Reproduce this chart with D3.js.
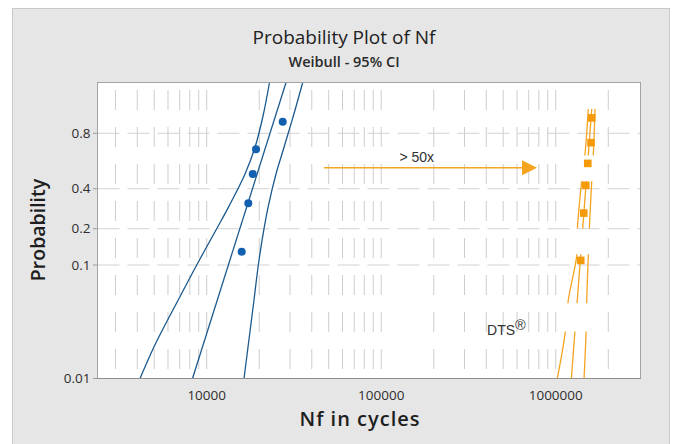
<!DOCTYPE html>
<html><head><meta charset="utf-8">
<script src="https://cdn.jsdelivr.net/npm/d3@7"></script>
<style>body{margin:0;background:#fff;} svg{display:block;}</style>
</head><body><svg id="c" width="676" height="444"></svg>
<script>
// ---------- data ----------
const blueX = [15870, 17310, 18350, 19170, 27260];
const blueP = [0.1296, 0.3148, 0.5, 0.6852, 0.8704];
const orangeX = [1391000, 1447000, 1486000, 1526000, 1593000, 1608000];
const orangeP = [0.1094, 0.2656, 0.4219, 0.5781, 0.7344, 0.8906];

const blueFitP = [0.01, 0.99];
const blueFitX = [8290, 28480];
const blueCIP = [0.01, 0.02, 0.05, 0.1, 0.2, 0.3, 0.5, 0.7, 0.9, 0.99];
const blueLowerX = [4148, 5055, 6877, 8765, 11410, 13420, 16580, 18920, 21020, 22900];
const blueUpperX = [16360, 17310, 18670, 19760, 21300, 22540, 24950, 27730, 31360, 35490];

const orangeFitP = [0.01, 0.93];
const orangeFitX = [1229000, 1608000];
const orangeCIP = [0.01, 0.025, 0.05, 0.12, 0.2, 0.45, 0.65, 0.93];
const orangeLowerX = [1021000, 1131000, 1181000, 1319000, 1330000, 1409000, 1472000, 1537000];
const orangeUpperX = [1453000, 1491000, 1505000, 1537000, 1558000, 1608000, 1642000, 1680000];
// probability ranges where the orange lines are not drawn
const orangeGapsP = [[0.446, 0.642], [0.122, 0.203], [0.026, 0.047]];

const yTicks = [0.01, 0.1, 0.2, 0.4, 0.8];
const yTickLabels = ["0.01", "0.1", "0.2", "0.4", "0.8"];
const xTicks = [10000, 100000, 1000000];
const xTickLabels = ["10000", "100000", "1000000"];
const xDomain = [2367, 3060000];
const pDomain = [0.01, 0.99];

const arrowFrom = [47000, 0.546];
const arrowTo = [781000, 0.546];
const arrowLabel = "> 50x";
const arrowLabelPos = [159700, 0.588];
const dtsLabel = "DTS";
const dtsPos = [404000, 0.0242];

const titleText = "Probability Plot of Nf";
const subtitleText = "Weibull - 95% CI";
const xTitle = "Nf in cycles";
const yTitle = "Probability";

// ---------- layout ----------
const L = 97.5, R = 640.5, T = 82.5, B = 378.5;
const svg = d3.select("#c");
const FONT = "'Open Sans', 'Noto Sans', sans-serif";
const BLUE_LINE = "#1c5a8e", BLUE_PT = "#135fb0";
const ORANGE = "#f5a420", ORANGE_PT = "#f59a08";

const x = d3.scaleLog().domain(xDomain).range([L, R]);
const weib = p => Math.log(-Math.log(1 - p));
const yLin = d3.scaleLinear().domain(pDomain.map(weib)).range([B, T]);
const y = p => yLin(weib(p));

// outer frame
svg.append("rect").attr("x", 12.5).attr("y", 8.5).attr("width", 657).attr("height", 460)
  .attr("fill", "#e6e6e6").attr("stroke", "#c9c9c9");

// plot area
svg.append("rect").attr("x", L).attr("y", T).attr("width", R - L).attr("height", B - T)
  .attr("fill", "#fff");

const defs = svg.append("defs");
defs.append("clipPath").attr("id", "plotclip").append("rect")
  .attr("x", L).attr("y", T).attr("width", R - L).attr("height", B - T);

// grid
const grid = svg.append("g").attr("clip-path", "url(#plotclip)");
const gridX = x.ticks().filter(v => x(v) > L + 2 && x(v) < R - 2);
grid.selectAll("line.vg").data(gridX).join("line")
  .attr("x1", d => x(d)).attr("x2", d => x(d)).attr("y1", T).attr("y2", B)
  .attr("stroke", "#cdcdcd").attr("stroke-width", 1)
  .attr("stroke-dasharray", "20,17").attr("stroke-dashoffset", 29.5);
grid.selectAll("line.hg").data(yTicks.slice(1)).join("line")
  .attr("x1", L).attr("x2", R).attr("y1", d => y(d)).attr("y2", d => y(d))
  .attr("stroke", "#d2d2d2").attr("stroke-width", 1)
  .attr("stroke-dasharray", "22,8");

// lines
const line = d3.line().x(d => x(d[0])).y(d => y(d[1])).curve(d3.curveCatmullRom.alpha(0.5));
const zip = (xs, ps) => xs.map((v, i) => [v, ps[i]]);

const blueG = svg.append("g").attr("clip-path", "url(#plotclip)");
[zip(blueLowerX, blueCIP), zip(blueFitX, blueFitP), zip(blueUpperX, blueCIP)].forEach(pts => {
  blueG.append("path").attr("d", line(pts)).attr("fill", "none")
    .attr("stroke", BLUE_LINE).attr("stroke-width", 1.3);
});

// orange clip with gaps
const oc = defs.append("clipPath").attr("id", "oclip");
const edges = [orangeFitP[1]].concat(...orangeGapsP.map(g => [g[1], g[0]])).concat([0.01]);
for (let i = 0; i < edges.length; i += 2) {
  const y0 = y(edges[i]), y1 = y(edges[i + 1]);
  oc.append("rect").attr("x", L).attr("width", R - L).attr("y", y0 - 0.5).attr("height", y1 - y0 + 1);
}
const orG = svg.append("g").attr("clip-path", "url(#oclip)");
[zip(orangeLowerX, orangeCIP), zip(orangeFitX, orangeFitP), zip(orangeUpperX, orangeCIP)].forEach(pts => {
  orG.append("path").attr("d", line(pts)).attr("fill", "none")
    .attr("stroke", ORANGE).attr("stroke-width", 1.3);
});

// points
svg.append("g").selectAll("circle").data(zip(blueX, blueP)).join("circle")
  .attr("cx", d => x(d[0])).attr("cy", d => y(d[1])).attr("r", 4).attr("fill", BLUE_PT);
svg.append("g").selectAll("rect").data(zip(orangeX, orangeP)).join("rect")
  .attr("x", d => x(d[0]) - 3.8).attr("y", d => y(d[1]) - 3.8)
  .attr("width", 7.6).attr("height", 7.6).attr("fill", ORANGE_PT);

// frame & axes
svg.append("rect").attr("x", L).attr("y", T).attr("width", R - L).attr("height", B - T)
  .attr("fill", "none").attr("stroke", "#a3a3a3");
svg.append("line").attr("x1", L - 4.5).attr("x2", R).attr("y1", B).attr("y2", B).attr("stroke", "#8f8f8f");

const yAx = svg.append("g");
yAx.selectAll("line").data(yTicks).join("line")
  .attr("x1", L - 4.5).attr("x2", L).attr("y1", d => y(d)).attr("y2", d => y(d)).attr("stroke", "#9a9a9a");
yAx.selectAll("text").data(yTicks).join("text")
  .attr("x", L - 7).attr("y", d => y(d)).attr("dy", "0.35em").attr("text-anchor", "end")
  .attr("font-family", FONT).attr("font-size", 13.5).attr("fill", "#2e2e2e")
  .text((d, i) => yTickLabels[i]);

const xAx = svg.append("g");
xAx.selectAll("text").data(xTicks).join("text")
  .attr("x", d => x(d)).attr("y", B + 21).attr("text-anchor", "middle")
  .attr("font-family", FONT).attr("font-size", 13.5).attr("fill", "#2e2e2e")
  .text((d, i) => xTickLabels[i]);

// titles
svg.append("text").attr("x", 344).attr("y", 44).attr("text-anchor", "middle")
  .attr("font-family", FONT).attr("font-size", 19).attr("font-weight", 500).attr("fill", "#222").text(titleText);
svg.append("text").attr("x", 344).attr("y", 67).attr("text-anchor", "middle")
  .attr("font-family", FONT).attr("font-size", 14.5).attr("font-weight", 600).attr("fill", "#2a2a2a").text(subtitleText);
svg.append("text").attr("x", 360).attr("y", 426).attr("text-anchor", "middle")
  .attr("font-family", FONT).attr("font-size", 20).attr("font-weight", 600).attr("letter-spacing", 1)
  .attr("fill", "#1e1e1e").text(xTitle);
svg.append("text").attr("transform", `translate(45,230) rotate(-90)`).attr("text-anchor", "middle")
  .attr("font-family", FONT).attr("font-size", 19.5).attr("font-weight", 600).attr("fill", "#1e1e1e").text(yTitle);

// annotation arrow
const ay = y(arrowFrom[1]);
svg.append("line").attr("x1", x(arrowFrom[0])).attr("x2", x(arrowTo[0]) - 14)
  .attr("y1", ay).attr("y2", ay).attr("stroke", ORANGE).attr("stroke-width", 1.6);
const tx = x(arrowTo[0]);
svg.append("path").attr("d", `M${tx},${ay} L${tx - 15},${ay - 7.5} L${tx - 15},${ay + 7.5} Z`).attr("fill", ORANGE);
svg.append("text").attr("x", x(arrowLabelPos[0])).attr("y", y(arrowLabelPos[1])).attr("text-anchor", "middle")
  .attr("font-family", "'Liberation Sans', Arial, sans-serif").attr("font-size", 14).attr("fill", "#333").text(arrowLabel);

const dts = svg.append("text").attr("x", x(dtsPos[0])).attr("y", y(dtsPos[1]))
  .attr("font-family", "'Liberation Sans', Arial, sans-serif").attr("font-size", 14).attr("fill", "#333");
dts.append("tspan").text(dtsLabel);
dts.append("tspan").attr("dy", -5).attr("font-size", 14.5).text("®");
</script></body></html>
